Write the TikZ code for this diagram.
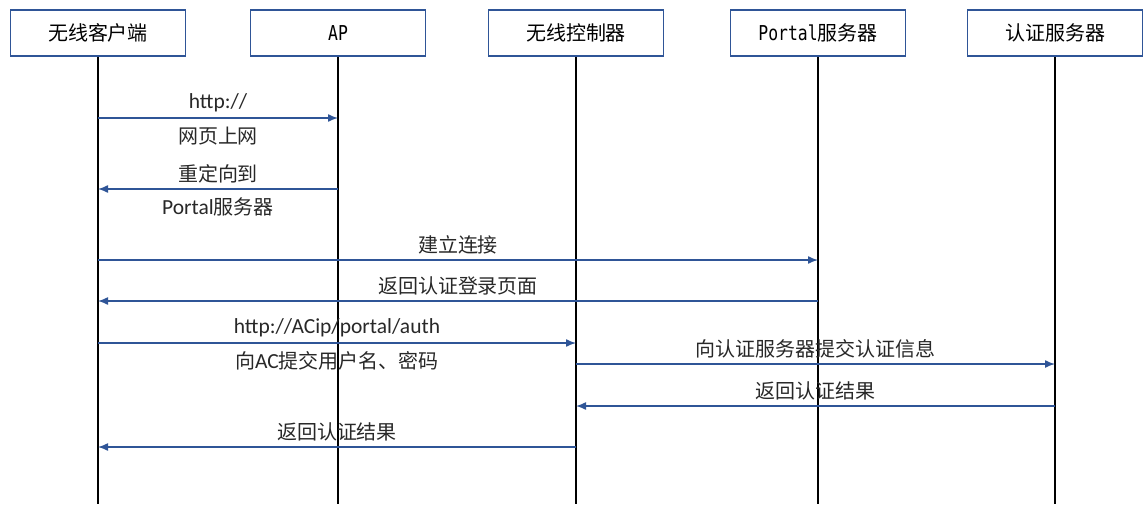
\documentclass[tikz,border=0pt]{standalone}
\usepackage{fontspec}
\usepackage{tikz}
\usetikzlibrary{arrows.meta}
\setmainfont{Carlito}
\newfontfamily\cjk[Scale=0.93]{Noto Sans CJK SC}
\newfontfamily\boxmono[FakeStretch=0.8]{DejaVu Sans Mono}
\definecolor{msgblue}{RGB}{47,85,151}
\definecolor{labelgray}{RGB}{40,40,40}

\begin{document}
\begin{tikzpicture}[x=1pt, y=-1pt,
	actor/.style={draw=msgblue, line width=1.5pt, minimum width=175pt, minimum height=46pt, inner sep=0, font=\cjk\fontsize{21.5}{24}\selectfont},
	lifeline/.style={line width=2.4pt, black},
	msg/.style={-{Latex[length=10pt, width=8pt]}, line width=1.4pt, msgblue},
	over/.style={above=5pt, inner sep=0, text=labelgray},
	under/.style={below=8pt, inner sep=0, text=labelgray},
	every node/.style={font=\fontsize{21.5}{24}\selectfont}
	]
	\useasboundingbox (0,0) rectangle (1144,504);
	
	\node (client) at (98,33) [actor] {无线客户端};
	\node (ap) at (338,33) [actor] {{\boxmono\fontsize{20.5}{24}\selectfont AP}};
	\node (ac) at (576,33) [actor] {无线控制器};
	\node (portal) at (818,33) [actor] {{\boxmono\fontsize{20.5}{24}\selectfont Portal}服务器};
	\node (auth) at (1055,33) [actor] {认证服务器};
	
	\coordinate (bottom) at (0,504);
	\foreach \who in {client,ap,ac,portal,auth} {
		\draw [lifeline] (\who.south) -- (\who |- bottom);
	}
	
	\foreach \row/\y in {m1/118,m2/189,m3/260,m4/301,m5/343,m6/364,m7/406,m8/447} {
		\coordinate (\row) at (0,\y);
	}
	
	\draw [msg] (client |- m1) -- node [over] {http://} node [under] {\cjk 网页上网} (ap |- m1);
	\draw [msg] (ap |- m2) -- node [over] {\cjk 重定向到} node [under] {Portal{\cjk 服务器}} (client |- m2);
	\draw [msg] (client |- m3) -- node [over] {\cjk 建立连接} (portal |- m3);
	\draw [msg] (portal |- m4) -- node [over] {\cjk 返回认证登录页面} (client |- m4);
	\draw [msg] (client |- m5) -- node [over] {http://ACip/portal/auth} node [under] {{\cjk 向}AC{\cjk 提交用户名、密码}} (ac |- m5);
	\draw [msg] (ac |- m6) -- node [over] {\cjk 向认证服务器提交认证信息} (auth |- m6);
	\draw [msg] (auth |- m7) -- node [over] {\cjk 返回认证结果} (ac |- m7);
	\draw [msg] (ac |- m8) -- node [over] {\cjk 返回认证结果} (client |- m8);
\end{tikzpicture}
\end{document}
